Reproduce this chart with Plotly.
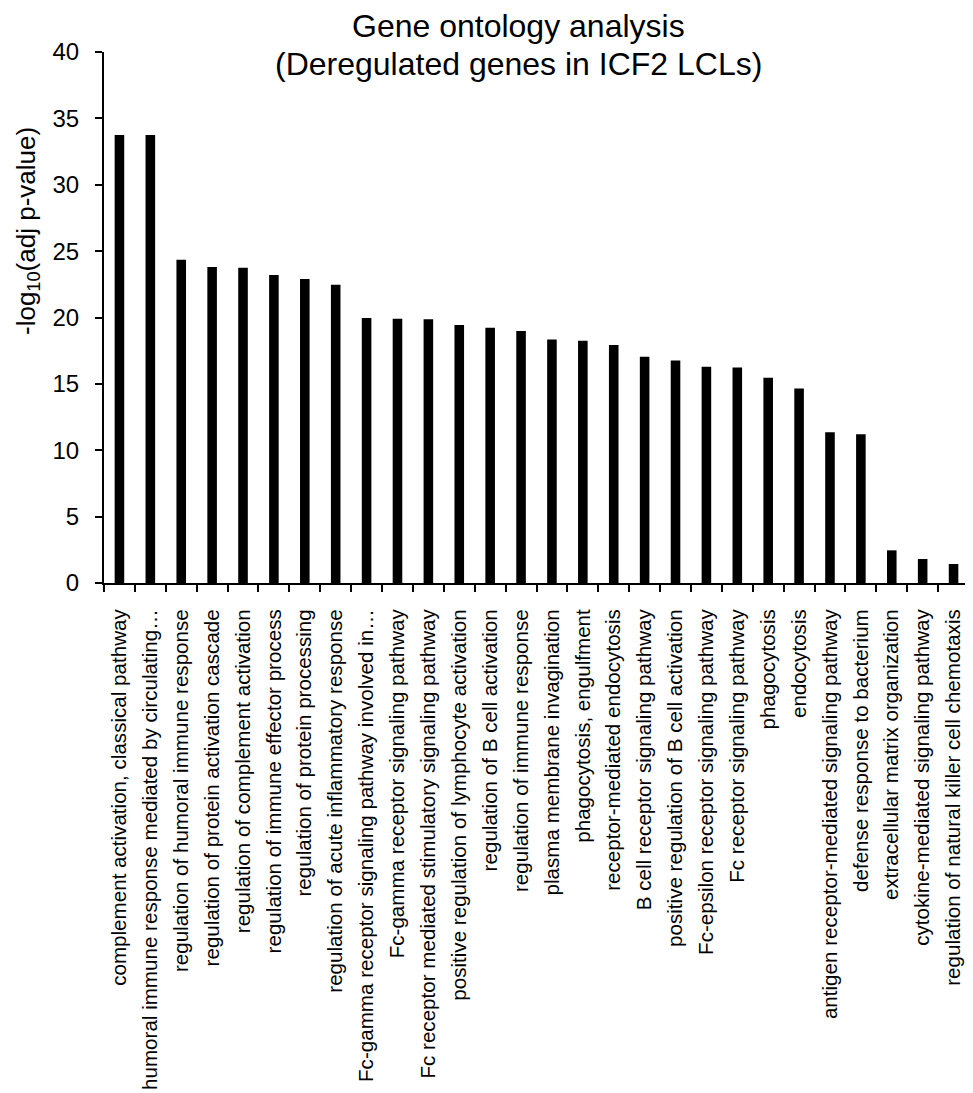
import plotly.graph_objects as go

categories = [
    "complement activation, classical pathway",
    "humoral immune response mediated by circulating…",
    "regulation of humoral immune response",
    "regulation of protein activation cascade",
    "regulation of complement activation",
    "regulation of immune effector process",
    "regulation of protein processing",
    "regulation of acute inflammatory response",
    "Fc-gamma receptor signaling pathway involved in…",
    "Fc-gamma receptor signaling pathway",
    "Fc receptor mediated stimulatory signaling pathway",
    "positive regulation of lymphocyte activation",
    "regulation of B cell activation",
    "regulation of immune response",
    "plasma membrane invagination",
    "phagocytosis, engulfment",
    "receptor-mediated endocytosis",
    "B cell receptor signaling pathway",
    "positive regulation of B cell activation",
    "Fc-epsilon receptor signaling pathway",
    "Fc receptor signaling pathway",
    "phagocytosis",
    "endocytosis",
    "antigen receptor-mediated signaling pathway",
    "defense response to bacterium",
    "extracellular matrix organization",
    "cytokine-mediated signaling pathway",
    "regulation of natural killer cell chemotaxis",
]

values = [
    33.75, 33.75, 24.35, 23.8, 23.75, 23.2, 22.9, 22.47, 19.96, 19.91,
    19.86, 19.43, 19.23, 18.98, 18.35, 18.25, 17.93, 17.04, 16.77, 16.29,
    16.24, 15.46, 14.66, 11.36, 11.21, 2.46, 1.81, 1.43,
]

y_ticks = [0, 5, 10, 15, 20, 25, 30, 35, 40]

title_lines = ["Gene ontology analysis", "(Deregulated genes in ICF2 LCLs)"]
y_title = "-log<sub>10</sub>(adj p-value)"

FONT = "Liberation Sans, Arial, sans-serif"

fig = go.Figure(
    go.Bar(
        x=categories,
        y=values,
        marker=dict(color="black", line=dict(width=0)),
        width=0.31,
    )
)

# page body adds an 8px margin; the figure is offset accordingly
fig.update_layout(
    width=965,
    height=1085,
    margin=dict(l=96, r=4, t=44, b=510),
    paper_bgcolor="white",
    plot_bgcolor="white",
    showlegend=False,
    font=dict(family=FONT, size=21, color="black"),
    bargap=0.69,
)

fig.update_xaxes(
    type="category",
    automargin=False,
    tickangle=-90,
    showline=True,
    linecolor="black",
    linewidth=2,
    ticks="outside",
    tickson="boundaries",
    ticklen=7,
    tickwidth=2,
    tickcolor="black",
    tickfont=dict(family=FONT, size=20.6, color="black"),
    showgrid=False,
    ticklabelstandoff=16,
)

fig.update_yaxes(
    automargin=False,
    range=[0, 40],
    tickvals=y_ticks,
    ticktext=[str(v) for v in y_ticks],
    showline=True,
    linecolor="black",
    linewidth=2,
    ticks="outside",
    ticklen=7,
    tickwidth=2,
    tickcolor="black",
    tickfont=dict(family=FONT, size=24, color="black"),
    showgrid=False,
    zeroline=False,
    ticklabelstandoff=11,
)

PLOT_TOP, PLOT_H = 52, 531


def paper_y(page_y):
    return 1 + (PLOT_TOP - page_y) / PLOT_H


for i, line in enumerate(title_lines):
    fig.add_annotation(
        text=line,
        xref="paper", yref="paper",
        x=(518 - 104) / 865, y=paper_y(6.5 + 38 * i),
        xanchor="center", yanchor="top",
        showarrow=False,
        font=dict(family=FONT, size=32, color="black"),
    )

fig.add_annotation(
    text=y_title,
    textangle=-90,
    xref="paper", yref="paper",
    x=0, xshift=-76, y=paper_y(231),
    xanchor="center", yanchor="middle",
    showarrow=False,
    font=dict(family=FONT, size=26, color="black"),
)

fig.write_html("out.html")
